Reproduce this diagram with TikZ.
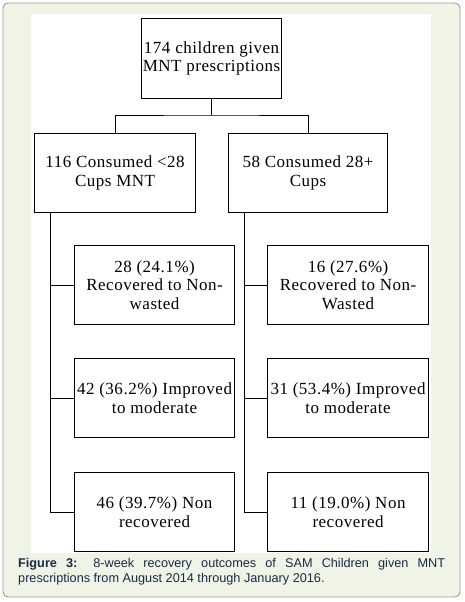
\documentclass[tikz,border=0pt]{standalone}
\usepackage{fontspec}
\setmainfont{Liberation Serif}
\newfontfamily\boxfont[LetterSpace=3]{Liberation Serif}
\newfontfamily\capfont{Liberation Sans}
\definecolor{bgframe}{HTML}{EFF4E6}
\definecolor{framegray}{HTML}{9A9A9A}
\definecolor{captxt}{HTML}{1B2A47}
\begin{document}
\begin{tikzpicture}[x=1pt,y=-1pt,
  box/.style={draw=black,line width=1.1pt,fill=white,inner sep=0pt,align=center,
    font=\boxfont\fontsize{17}{18.5}\selectfont,anchor=north west},
  conn/.style={draw=black,line width=0.8pt}]
\useasboundingbox (0,0) rectangle (465,602);
% frame
\draw[framegray,line width=0.9pt,fill=bgframe,rounded corners=5pt] (3,3) rectangle (460,597);
\fill[white] (31,14) rectangle (431,553);
% nodes
\node[box,minimum width=140pt,minimum height=80pt] (top) at (141,18) {174 children given\\MNT prescriptions};
\node[box,minimum width=161pt,minimum height=79pt] (L) at (34,133) {116 Consumed <28\\Cups MNT};
\node[box,minimum width=159pt,minimum height=79pt] (R) at (228,133) {58 Consumed 28+\\Cups};
\node[box,minimum width=160pt,minimum height=79pt] (l1) at (74,245) {28 (24.1\%)\\Recovered to Non-\\wasted};
\node[box,minimum width=160pt,minimum height=79pt] (l2) at (74,358) {42 (36.2\%) Improved\\to moderate};
\node[box,minimum width=160pt,minimum height=79pt] (l3) at (74,472) {46 (39.7\%) Non\\recovered};
\node[box,minimum width=161pt,minimum height=79pt] (r1) at (267,245) {16 (27.6\%)\\Recovered to Non-\\Wasted};
\node[box,minimum width=161pt,minimum height=79pt] (r2) at (267,358) {31 (53.4\%) Improved\\to moderate};
\node[box,minimum width=161pt,minimum height=79pt] (r3) at (267,472) {11 (19.0\%) Non\\recovered};
% connectors
\coordinate (jn) at (211,115);
\draw[conn,line width=1.6pt] (top.south) -- (top.south |- jn);
\draw[conn] (L.north) |- (jn) -| (R.north);
\coordinate (lv) at (50,212);
\coordinate (rv) at (244,212);
\draw[conn] (lv) |- (l3.west);
\draw[conn] (rv) |- (r3.west);
\draw[conn] (l1.west) -- (l1.west -| lv);
\draw[conn] (l2.west) -- (l2.west -| lv);
\draw[conn] (r1.west) -- (r1.west -| rv);
\draw[conn] (r2.west) -- (r2.west -| rv);
% caption
\node[anchor=north west,inner sep=0pt,text width=427pt,align=justify,text=captxt,
  font=\capfont\fontsize{12.7}{15}\selectfont] (cap) at (18,558)
  {\textbf{Figure 3:} 8-week recovery outcomes of SAM Children given MNT\linebreak prescriptions from August 2014 through January 2016.};
\end{tikzpicture}
\end{document}
